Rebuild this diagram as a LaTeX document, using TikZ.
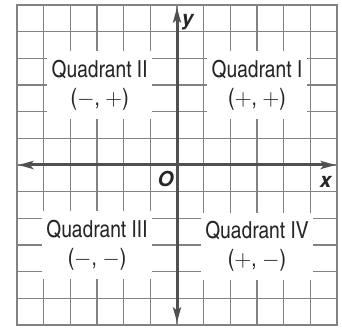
\documentclass[tikz,border=0pt]{standalone}
\usepackage{fontspec}
\setmainfont{TeX Gyre Heros Cn}
\newfontfamily\axisfont{TeX Gyre Heros}
\usepackage{xcolor}
\usetikzlibrary{arrows.meta}

\definecolor{gridgray}{RGB}{130,130,130}
\definecolor{axisgray}{RGB}{80,80,80}

\newcommand{\sgnp}{$+$}
\newcommand{\sgnm}{$-$}

\begin{document}
\begin{tikzpicture}[
  x=0.5cm, y=0.5cm,
  gridline/.style={draw=gridgray, line width=0.7pt},
  axis/.style={draw=axisgray, line width=1.6pt,
               {Stealth[length=2.8mm, width=1.5mm, inset=0.6mm]}-{Stealth[length=2.8mm, width=1.5mm, inset=0.6mm]}},
  quad/.style={fill=white, align=center, font=\fontsize{12.5}{15}\selectfont,
               inner xsep=2.5pt, inner ysep=4.5pt, text=black!85},
  axlabel/.style={font=\axisfont\bfseries\itshape\fontsize{11}{13}\selectfont, text=black!85},
]

  \useasboundingbox (-0.6375, -0.1875) rectangle (12.1875, 12.1875);

  % === Grid ===
  \draw[gridline] (0,0) grid[step=1] (12,12);
  \draw[gridline] (0,0) rectangle (12,12);

  % === Axes ===
  \coordinate (xleft)   at (0.05, 6);
  \coordinate (xright)  at (11.95, 6);
  \coordinate (ybottom) at (6, 0.1);
  \coordinate (ytop)    at (6, 11.9);
  \draw[axis] (xleft) -- (xright);
  \draw[axis] (ybottom) -- (ytop);

  \node[axlabel] (xlab) at (11.57, 5.38) {x};
  \node[axlabel, anchor=base] (ylab) at (6.4, 11.22) {y};
  \node[axlabel] (origin) at (5.57, 5.48) {O};

  % === Quadrant labels ===
  \node[quad] (q2) at (3.1, 9.0) {Quadrant II\\(\sgnm, \sgnp)};
  \node[quad] (q1) at (9.0, 9.0) {Quadrant I\\(\sgnp, \sgnp)};
  \node[quad] (q3) at (3.0, 3.0) {Quadrant III\\(\sgnm, \sgnm)};
  \node[quad] (q4) at (9.0, 2.95) {Quadrant IV\\(\sgnp, \sgnm)};

\end{tikzpicture}
\end{document}
